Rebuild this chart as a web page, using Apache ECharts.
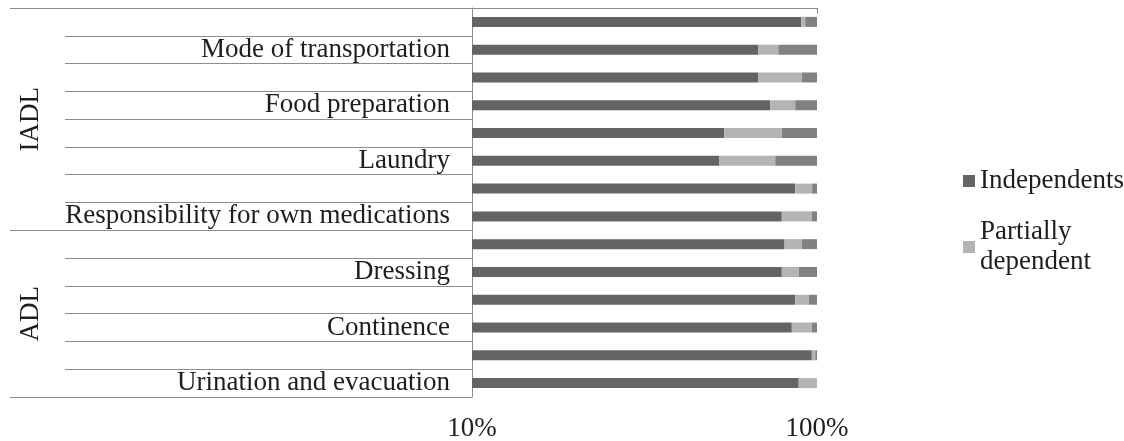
<!DOCTYPE html>
<html>
<head>
<meta charset="utf-8">
<title>IADL / ADL independence</title>
<script src="https://cdn.jsdelivr.net/npm/echarts@6/dist/echarts.min.js"></script>
<style>
  html, body { margin: 0; padding: 0; background: #fff; }
  #chart { width: 1124px; height: 441px; }
</style>
</head>
<body>
<div id="chart"></div>
<script>
// rows top to bottom; unlabeled rows have no text in the picture
const activities = [
  '', 'Mode of transportation', '', 'Food preparation', '', 'Laundry', '',
  'Responsibility for own medications', '', 'Dressing', '', 'Continence', '',
  'Urination and evacuation'
]
const groups = ['IADL', 'ADL']
const groupSizes = [8, 6]
const tickLabels = ['10%', '100%']

const independents = [95.4, 83.0, 83.0, 86.4, 73.1, 71.6, 93.7, 89.8, 90.6, 89.8, 93.7, 92.7, 98.5, 94.7]
const partiallyDependent = [1.2, 5.8, 12.6, 7.3, 16.7, 16.3, 4.9, 8.7, 5.0, 4.9, 3.9, 5.8, 1.0, 5.3]
const dependent = [3.4, 11.2, 4.4, 6.3, 10.2, 12.1, 1.4, 1.5, 4.4, 5.3, 2.4, 1.5, 0.5, 0]

const font = '"Liberation Serif", "Times New Roman", serif'
const fontSize = 27
const lineColor = '#8c8c8c'
const textColor = '#1e1e1e'

// group boundaries and centres in row units
const boundaries = [0]
const centres = []
groupSizes.forEach((n, i) => {
  centres.push(boundaries[i] + n / 2)
  boundaries.push(boundaries[i] + n)
})

const chart = echarts.init(document.getElementById('chart'))

function barSeries(name, data, color) {
  return {
    name,
    type: 'bar',
    stack: 'total',
    barWidth: 10,
    data,
    itemStyle: { color },
    emphasis: { disabled: true }
  }
}

chart.setOption({
  animation: false,
  grid: { left: 472, right: 307, top: 8, bottom: 44, containLabel: false, outerBoundsMode: 'none' },
  legend: {
    orient: 'vertical',
    left: 958,
    top: 161,
    itemGap: 21,
    icon: 'rect',
    itemWidth: 12,
    itemHeight: 12,
    data: ['Independents', 'Partially dependent'],
    formatter: name => name.replace(' ', '\n'),
    textStyle: { fontFamily: font, fontSize, color: textColor, lineHeight: 30 }
  },
  xAxis: {
    type: 'value',
    min: 0,
    max: 100,
    interval: 100,
    splitLine: { show: false },
    axisLine: { show: true, lineStyle: { color: lineColor } },
    axisTick: { show: true, length: 6, lineStyle: { color: lineColor } },
    axisLabel: {
      margin: 18,
      fontFamily: font,
      fontSize,
      color: textColor,
      formatter: (v, i) => tickLabels[i]
    }
  },
  yAxis: [
    {
      type: 'category',
      position: 'left',
      inverse: true,
      data: activities,
      axisLine: { show: true, lineStyle: { color: lineColor } },
      axisTick: { show: true, interval: 0, length: 407, lineStyle: { color: lineColor } },
      axisLabel: { interval: 0, margin: 22, fontFamily: font, fontSize, color: textColor }
    },
    {
      type: 'value',
      position: 'left',
      inverse: true,
      min: 0,
      max: boundaries[boundaries.length - 1],
      splitLine: { show: false },
      axisLine: { show: false },
      axisTick: { show: true, length: 462, customValues: boundaries, lineStyle: { color: lineColor } },
      axisLabel: {
        customValues: centres,
        rotate: 90,
        margin: 428,
        fontFamily: font,
        fontSize,
        color: textColor,
        formatter: v => groups[centres.indexOf(v)]
      }
    }
  ],
  series: [
    barSeries('Independents', independents, '#646466'),
    barSeries('Partially dependent', partiallyDependent, '#b4b4b6'),
    barSeries('Dependent', dependent, '#818183')
  ]
})
</script>
</body>
</html>
